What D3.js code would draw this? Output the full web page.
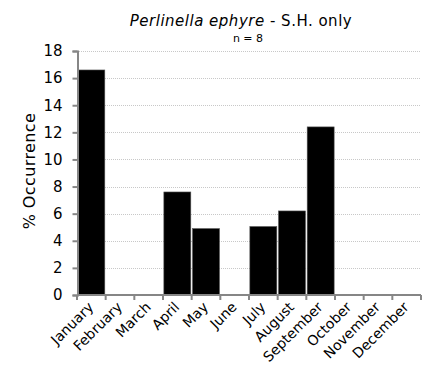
<!DOCTYPE html>
<html><head><meta charset="utf-8">
<script src="https://cdn.jsdelivr.net/npm/d3@7"></script>
<style>body{margin:0;background:#fff}svg{display:block}text{font-family:"DejaVu Sans",Verdana,sans-serif}</style>
</head><body>
<script>
const months = ["January","February","March","April","May","June","July","August","September","October","November","December"];
const occurrence = [16.6,0,0,7.6,4.9,0,5.05,6.2,12.4,0,0,0];
const yTicks = [0,2,4,6,8,10,12,14,16,18];
const titleItalic = "Perlinella ephyre";
const titleRest = " - S.H. only";
const subtitle = "n = 8";
const yLabel = "% Occurrence";

const W=423,H=377;
const m={l:77,r:2,t:51,b:82};
const svg=d3.select("body").append("svg").attr("width",W).attr("height",H);
const x=d3.scaleBand().domain(months).range([m.l,W-m.r]).paddingInner(0.06).paddingOuter(0.03);
const y=d3.scaleLinear().domain([0,18]).range([H-m.b,m.t]);
const g=svg.append("g");
// gridlines
g.selectAll("line.grid").data(yTicks.filter(d=>d>0)).enter().append("line")
 .attr("x1",m.l).attr("x2",W-m.r).attr("y1",d=>Math.round(y(d))+0.5).attr("y2",d=>Math.round(y(d))+0.5)
 .attr("stroke","#c8c8c8").attr("stroke-width",1).attr("stroke-dasharray","1,1");
// bars
g.selectAll("rect.bar").data(months).enter().append("rect")
 .attr("x",d=>x(d)).attr("width",x.bandwidth())
 .attr("y",(d,i)=>y(occurrence[i])).attr("height",(d,i)=>y(0)-y(occurrence[i]))
 .attr("fill","#000").attr("stroke","#555").attr("stroke-width",0.6);
// y axis
const ya=svg.append("g").attr("transform",`translate(${m.l+0.5},0)`)
 .call(d3.axisLeft(y).tickValues(yTicks).tickSize(5).tickSizeOuter(5));
ya.select(".domain").attr("stroke","#868686").attr("stroke-width",2);
ya.selectAll(".tick line").attr("stroke","#868686").attr("stroke-width",2);
ya.selectAll(".tick text").attr("font-size",15).attr("fill","#000").attr("x",-15).attr("font-family","DejaVu Sans");
// x axis
const xb=d3.scaleLinear().domain([0,12]).range([m.l,W-m.r]);
const xa=svg.append("g").attr("transform",`translate(0,${y(0)})`);
xa.append("line").attr("x1",m.l).attr("x2",W-m.r).attr("stroke","#868686").attr("stroke-width",2);
xa.selectAll("line.t").data(d3.range(13)).enter().append("line")
 .attr("x1",d=>xb(d)).attr("x2",d=>xb(d)).attr("y1",0).attr("y2",5).attr("stroke","#868686").attr("stroke-width",2);
xa.selectAll("text").data(months).enter().append("text")
 .attr("transform",d=>`translate(${x(d)+x.bandwidth()/2+3},${13}) rotate(-45)`)
 .attr("text-anchor","end").attr("font-size",14).text(d=>d);
// y label
svg.append("text").attr("transform",`translate(35,171) rotate(-90)`)
 .attr("text-anchor","middle").attr("font-size",16).attr("letter-spacing",0.4).text(yLabel);
// title
const t=svg.append("text").attr("x",241).attr("y",26).attr("text-anchor","middle").attr("font-size",15).attr("letter-spacing",0.5);
t.append("tspan").attr("font-style","italic").text(titleItalic);
t.append("tspan").text(titleRest);
svg.append("text").attr("x",248).attr("y",42).attr("text-anchor","middle").attr("font-size",11).text(subtitle);
</script>
</body></html>
